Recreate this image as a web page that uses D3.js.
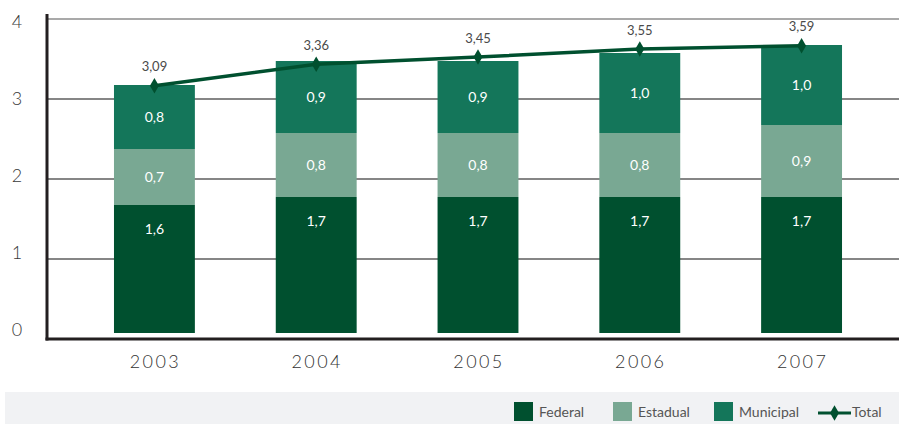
<!DOCTYPE html>
<html>
<head>
<meta charset="utf-8">
<script src="https://cdn.jsdelivr.net/npm/d3@7"></script>
<style>
  html, body { margin: 0; padding: 0; background: #fff; }
  svg { display: block; }
  text { font-family: Lato, "Open Sans", "Noto Sans", sans-serif; }
</style>
</head>
<body>
<svg id="chart" width="899" height="424"></svg>
<script>
// Spending by government level, 2003–2007
const years = ["2003", "2004", "2005", "2006", "2007"];
const federal = [1.6, 1.7, 1.7, 1.7, 1.7];
const estadual = [0.7, 0.8, 0.8, 0.8, 0.9];
const municipal = [0.8, 0.9, 0.9, 1.0, 1.0];
const total = [3.09, 3.36, 3.45, 3.55, 3.59];
const yTicks = [0, 1, 2, 3, 4];

const seriesKeys = ["federal", "estadual", "municipal"];
const seriesNames = { federal: "Federal", estadual: "Estadual", municipal: "Municipal" };
const colors = { federal: "#00502f", estadual: "#79a893", municipal: "#14765a" };
const lineColor = "#00502f";

const rows = years.map((yr, i) => ({
  year: yr, federal: federal[i], estadual: estadual[i], municipal: municipal[i], total: total[i]
}));

const svg = d3.select("#chart");
const W = 899, H = 424;
const axisX = 47, axisBottom = 339;

const x = d3.scaleBand().domain(years).range([47, 909]).paddingInner(0.5).paddingOuter(0.414);
const y = d3.scaleLinear().domain([0, 4]).range([333, 13]);
const yLab = d3.scaleLinear().domain([0, 4]).range([330, 22]);
const fmt = v => d3.format(".1f")(v).replace(".", ",");
const fmt2 = v => d3.format(".2f")(v).replace(".", ",");

// horizontal gridlines (sit a few px below the bar baseline grid)
const grid = svg.append("g").attr("transform", "translate(0,6)");
grid.selectAll("line").data(yTicks.filter(t => t > 0)).join("line")
  .attr("x1", axisX).attr("x2", W)
  .attr("y1", d => y(d)).attr("y2", d => y(d))
  .attr("stroke", d => d === 4 ? "#8c8c8c" : "#5e5e5e")
  .attr("stroke-width", 1.4);

// y tick labels
svg.append("g").selectAll("text").data(yTicks).join("text")
  .attr("x", 17).attr("y", d => yLab(d))
  .attr("dy", "0.36em")
  .attr("text-anchor", "middle")
  .attr("font-size", 18).attr("font-weight", 300).attr("fill", "#3a3a3a")
  .text(d => d);

// stacked bars
const stacked = d3.stack().keys(seriesKeys)(rows);
const barG = svg.append("g");
stacked.forEach(layer => {
  const key = layer.key;
  barG.append("g").selectAll("rect").data(layer).join("rect")
    .attr("x", d => x(d.data.year))
    .attr("width", x.bandwidth())
    .attr("y", d => y(d[1]))
    .attr("height", d => y(d[0]) - y(d[1]))
    .attr("fill", colors[key]);
  barG.append("g").selectAll("text").data(layer).join("text")
    .attr("x", d => x(d.data.year) + x.bandwidth() / 2)
    .attr("y", d => key === "federal" ? y(d[1]) + 24 : (y(d[0]) + y(d[1])) / 2)
    .attr("dy", "0.36em")
    .attr("text-anchor", "middle")
    .attr("font-size", 14).attr("fill", "#ffffff")
    .text(d => fmt(d.data[key]));
});

// axes lines
svg.append("line").attr("x1", axisX).attr("x2", axisX).attr("y1", 14).attr("y2", axisBottom + 1.5)
  .attr("stroke", "#231f20").attr("stroke-width", 3);
svg.append("line").attr("x1", axisX - 1.5).attr("x2", W).attr("y1", axisBottom).attr("y2", axisBottom)
  .attr("stroke", "#231f20").attr("stroke-width", 3);

// year labels
svg.append("g").selectAll("text").data(years).join("text")
  .attr("x", d => x(d) + x.bandwidth() / 2 + 1)
  .attr("y", 362).attr("dy", "0.36em")
  .attr("text-anchor", "middle")
  .attr("font-size", 18).attr("font-weight", 300).attr("letter-spacing", 2.4).attr("fill", "#333")
  .text(d => d);

// total line
const cx = d => x(d.year) + x.bandwidth() / 2;
const line = d3.line().x(cx).y(d => y(d.total));
svg.append("path").datum(rows).attr("d", line)
  .attr("fill", "none").attr("stroke", lineColor).attr("stroke-width", 3.5);
const diamond = d3.symbol().type(d3.symbolDiamond).size(70);
svg.append("g").selectAll("path").data(rows).join("path")
  .attr("transform", d => `translate(${cx(d)},${y(d.total)})`)
  .attr("d", diamond).attr("fill", lineColor);
svg.append("g").selectAll("text").data(rows).join("text")
  .attr("x", cx).attr("y", d => y(d.total) - 19)
  .attr("dy", "0.36em").attr("text-anchor", "middle")
  .attr("font-size", 13).attr("fill", "#4a4a4a")
  .text(d => fmt2(d.total));

// legend
svg.append("rect").attr("x", 5).attr("y", 392).attr("width", W - 5).attr("height", H - 392)
  .attr("fill", "#f1f2f4");
const legend = svg.append("g");
const legendItems = [
  { key: "federal", x: 514 },
  { key: "estadual", x: 613 },
  { key: "municipal", x: 714 }
];
legendItems.forEach(it => {
  legend.append("rect").attr("x", it.x).attr("y", 402).attr("width", 19).attr("height", 19)
    .attr("fill", colors[it.key]);
  legend.append("text").attr("x", it.x + 25).attr("y", 412).attr("dy", "0.36em")
    .attr("font-size", 14).attr("fill", "#555").text(seriesNames[it.key]);
});
legend.append("line").attr("x1", 818).attr("x2", 851).attr("y1", 413).attr("y2", 413)
  .attr("stroke", lineColor).attr("stroke-width", 3);
legend.append("path").attr("transform", "translate(834.5,413)").attr("d", diamond).attr("fill", lineColor);
legend.append("text").attr("x", 852).attr("y", 412).attr("dy", "0.36em")
  .attr("font-size", 14).attr("fill", "#555").text("Total");
</script>
</body>
</html>
